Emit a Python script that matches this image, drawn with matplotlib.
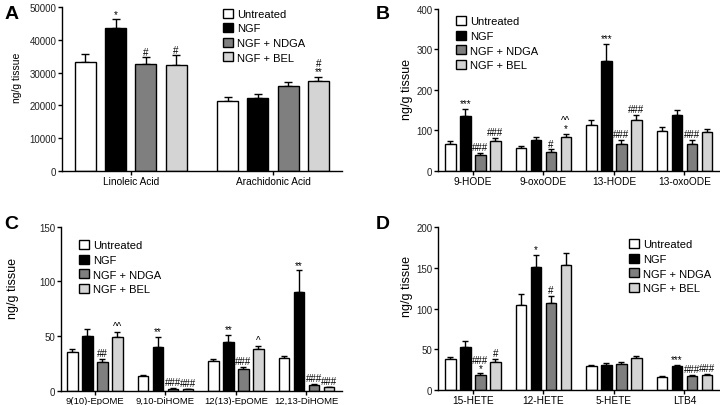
import matplotlib
matplotlib.use("Agg")
import matplotlib.pyplot as plt
from matplotlib.patches import Patch

plt.rcParams['font.family'] = ['Liberation Sans', 'DejaVu Sans']

# ---- data ----
series = ['Untreated', 'NGF', 'NGF + NDGA', 'NGF + BEL']
colors = ['white', 'black', '#7f7f7f', '#d4d4d4']

# panel A
a_groups = ['Linoleic Acid', 'Arachidonic Acid']
a_mean = [[33300, 21300], [43500, 22200], [32500, 25800], [32300, 27400]]
a_err = [[2500, 1300], [2800, 1300], [2200, 1200], [3000, 1200]]
a_marks = [['', ''], ['*', ''], ['#', ''], ['#', '#\n**']]

# panel B
b_groups = ['9-HODE', '9-oxoODE', '13-HODE', '13-oxoODE']
b_mean = [[65, 56, 112, 98], [135, 75, 272, 137], [38, 47, 67, 66], [73, 84, 126, 95]]
b_err = [[8, 5, 13, 10], [17, 8, 42, 14], [6, 6, 9, 11], [8, 8, 13, 9]]
b_marks = [['', '', '', ''], ['***', '', '***', ''], ['###', '#', '###', '###'], ['###', '^^\n*', '###', '']]

# panel C
c_groups = ['9(10)-EpOME', '9,10-DiHOME', '12(13)-EpOME', '12,13-DiHOME']
c_mean = [[35, 13, 27, 30], [50, 40, 45, 90], [26, 2, 20, 5], [49, 1.5, 38, 3]]
c_err = [[3, 1, 2, 2], [6, 9, 6, 20], [3, 0.5, 2, 1], [5, 0.3, 3, 0.5]]
c_marks = [['', '', '', ''], ['', '**', '**', '**'], ['##', '###', '###', '###'], ['^^', '###', '^', '###']]

# panel D
d_groups = ['15-HETE', '12-HETE', '5-HETE', 'LTB4']
d_mean = [[38, 104, 29, 16], [53, 151, 31, 29], [19, 107, 32, 17], [34, 154, 39, 18]]
d_err = [[3, 14, 2, 1], [7, 15, 2, 2], [1.5, 9, 2, 1.5], [4, 14, 3, 2]]
d_marks = [['', '', '', ''], ['', '*', '', '***'], ['###\n*', '#', '', '###'], ['#', '', '', '###']]

W, H = 720, 406
fig = plt.figure(figsize=(7.2, 4.06), dpi=100)


def px_axes(left, top, right, bottom):
    return fig.add_axes([left / W, 1 - bottom / H, (right - left) / W, (bottom - top) / H])


def panel(ax, groups, mean, err, marks, ymax, ystep, xlim, capsize, lab_size, lab_pos, xsize=7.3):
    gstep = 4.7
    centers = []
    for g in range(len(groups)):
        centers.append(g * gstep + 1.5)
    for s in range(4):
        xs = [g * gstep + s for g in range(len(groups))]
        ax.bar(xs, mean[s], width=0.7, color=colors[s], edgecolor='black', linewidth=1.0, zorder=2)
        ax.errorbar(xs, mean[s], yerr=[[0] * len(xs), err[s]], fmt='none', ecolor='black',
                    elinewidth=1.0, capsize=capsize, capthick=1.0, zorder=1)
        for x, m, e, t in zip(xs, mean[s], err[s], marks[s]):
            if t:
                ax.annotate(t, (x, m + e), xytext=(0, 0.5), textcoords='offset points',
                            ha='center', va='bottom', fontsize=7, linespacing=0.75)
    ax.set_xlim(xlim)
    ax.set_ylim(0, ymax)
    ax.set_yticks(range(0, ymax + 1, ystep))
    ax.set_xticks(centers)
    ax.set_xticklabels(groups, fontsize=xsize)
    ax.tick_params(axis='y', labelsize=7, length=3, width=1, pad=1, labelcolor='#222222')
    ax.tick_params(axis='x', length=3, width=1, pad=0.5)
    for sp in ['top', 'right']:
        ax.spines[sp].set_visible(False)
    for sp in ['left', 'bottom']:
        ax.spines[sp].set_linewidth(1.0)
    ax.set_ylabel('ng/g tissue', fontsize=lab_size)
    ax.yaxis.set_label_coords(lab_pos[0], lab_pos[1])


def legend(ax, x, y):
    handles = [Patch(facecolor=c, edgecolor='black', linewidth=1.0) for c in colors]
    ax.legend(handles, series, loc='upper left', bbox_to_anchor=(x / W, 1 - y / H),
              bbox_transform=fig.transFigure, frameon=False, fontsize=8,
              handlelength=0.9, handleheight=0.9, handletextpad=0.4,
              labelspacing=0.37, borderpad=0, borderaxespad=0)


axA = px_axes(62, 8.2, 342, 171.7)
panel(axA, a_groups, a_mean, a_err, a_marks, 50000, 10000, (-0.77, 8.48), 3, 7.5, (-0.143, 0.573))
legend(axA, 223, 9.5)

axB = px_axes(438, 10, 719, 171.7)
panel(axB, b_groups, b_mean, b_err, b_marks, 400, 100, (-0.83, 17.9), 2, 9, (-0.089, 0.51))
legend(axB, 456, 17)

axC = px_axes(60.5, 227.7, 342, 391.7)
panel(axC, c_groups, c_mean, c_err, c_marks, 150, 50, (-0.8, 17.97), 2, 9, (-0.147, 0.63), xsize=6.8)
legend(axC, 79, 241)

axD = px_axes(438, 228.3, 720, 391)
panel(axD, d_groups, d_mean, d_err, d_marks, 200, 50, (-0.83, 17.97), 2, 9, (-0.089, 0.64))
legend(axD, 629, 240)

for letter, x, y in [('A', 5, 6), ('B', 376, 6), ('C', 4, 216), ('D', 376, 216)]:
    fig.text(x / W, 1 - y / H, letter, fontsize=14, fontweight='bold', va='top', ha='left')

fig.savefig('out.png', dpi=100)
